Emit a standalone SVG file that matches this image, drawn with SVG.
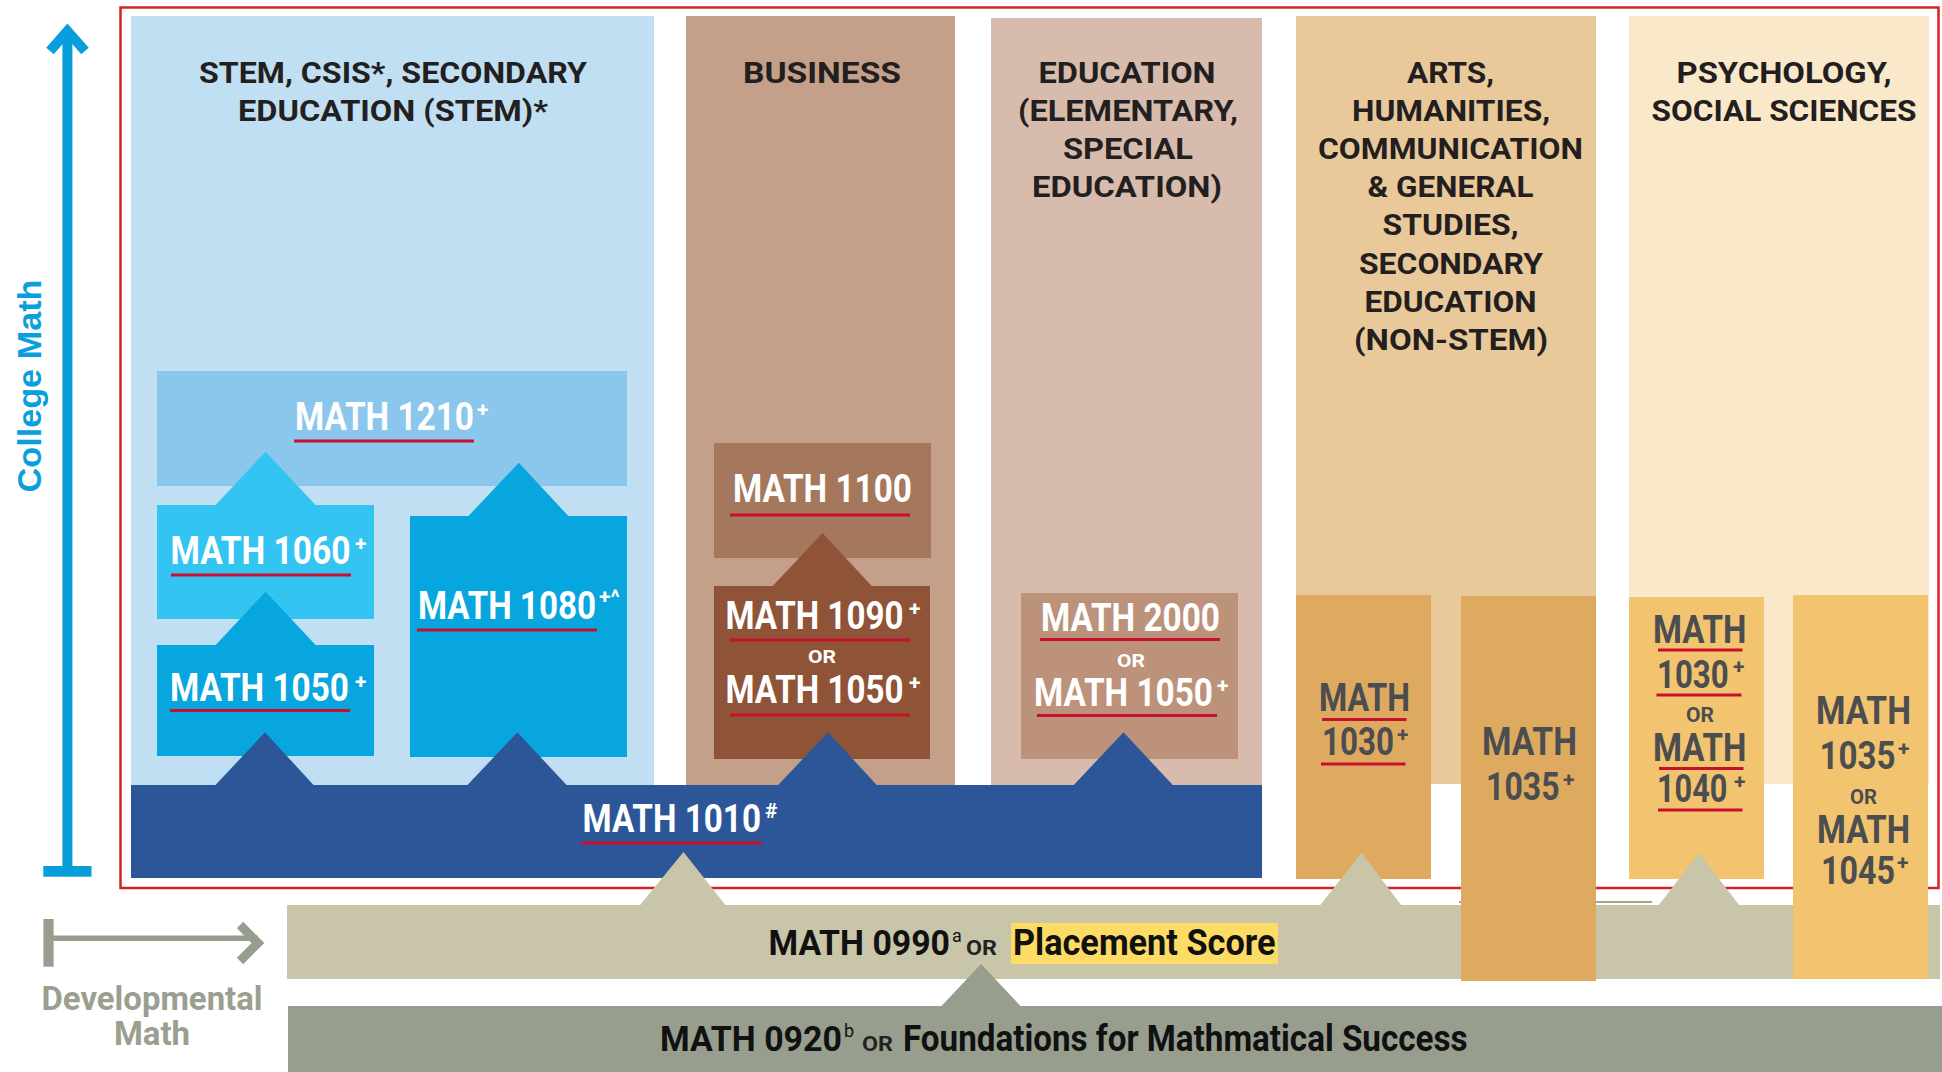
<svg xmlns="http://www.w3.org/2000/svg" width="1942" height="1072" viewBox="0 0 1942 1072">
<style>
text{font-family:Roboto,"Liberation Sans",Arial,sans-serif;font-weight:700}
.h{font-size:30px;fill:#231f20;text-anchor:middle}
.w{font-size:38px;fill:#ffffff}
.g{font-size:38px;fill:#4b4d4f}
.k{font-size:36px;fill:#111111}
.s{font-size:21px}
.o{font-size:19px;text-anchor:middle}
.ul{stroke:#c8102e;stroke-width:3}
.dev{font-size:33px;fill:#9a9f8f;text-anchor:middle}
</style>
<rect x="0" y="0" width="1942" height="1072" fill="#ffffff"/>

<g id="legend-college">
  <line x1="67.4" y1="34" x2="67.4" y2="868" stroke="#079fdb" stroke-width="10"/>
  <polyline points="50,51 67.4,31 85,51" fill="none" stroke="#079fdb" stroke-width="10" stroke-miterlimit="10"/>
  <rect x="43.3" y="866" width="48.2" height="10.7" fill="#079fdb"/>
  <text x="41" y="386" transform="rotate(-90 41 386)" text-anchor="middle" style="font-family:'Liberation Sans',Arial,sans-serif;font-size:34px;fill:#0a9fdc" textLength="213" lengthAdjust="spacingAndGlyphs">College Math</text>
</g>

<g id="frame">
  <rect x="120.5" y="7.5" width="1818" height="880.5" fill="none" stroke="#d2232a" stroke-width="2.5"/>
</g>

<g id="panel-stem">
  <rect x="131" y="16" width="523" height="769" fill="#c0dff2"/>
  <text class="h" x="393" y="83" textLength="388" lengthAdjust="spacingAndGlyphs">STEM, CSIS*, SECONDARY</text>
  <text class="h" x="393" y="121" textLength="310" lengthAdjust="spacingAndGlyphs">EDUCATION (STEM)*</text>
</g>
<g id="panel-business">
  <rect x="686" y="16" width="269" height="769" fill="#c49f89"/>
  <text class="h" x="822" y="83" textLength="158" lengthAdjust="spacingAndGlyphs">BUSINESS</text>
</g>
<g id="panel-education">
  <rect x="991" y="18" width="271" height="767" fill="#d7bbac"/>
  <text class="h" x="1127" y="83" textLength="177" lengthAdjust="spacingAndGlyphs">EDUCATION</text>
  <text class="h" x="1128" y="121" textLength="220" lengthAdjust="spacingAndGlyphs">(ELEMENTARY,</text>
  <text class="h" x="1128" y="159" textLength="130" lengthAdjust="spacingAndGlyphs">SPECIAL</text>
  <text class="h" x="1127" y="197" textLength="190" lengthAdjust="spacingAndGlyphs">EDUCATION)</text>
</g>
<g id="panel-arts">
  <rect x="1296" y="16" width="300" height="768" fill="#e9c89a"/>
  <text class="h" x="1450.5" y="83" textLength="87" lengthAdjust="spacingAndGlyphs">ARTS,</text>
  <text class="h" x="1451" y="121" textLength="198" lengthAdjust="spacingAndGlyphs">HUMANITIES,</text>
  <text class="h" x="1450.5" y="159" textLength="265" lengthAdjust="spacingAndGlyphs">COMMUNICATION</text>
  <text class="h" x="1450.5" y="197" textLength="166" lengthAdjust="spacingAndGlyphs">&amp; GENERAL</text>
  <text class="h" x="1450.5" y="235" textLength="136" lengthAdjust="spacingAndGlyphs">STUDIES,</text>
  <text class="h" x="1451" y="274" textLength="184" lengthAdjust="spacingAndGlyphs">SECONDARY</text>
  <text class="h" x="1450.5" y="312" textLength="172" lengthAdjust="spacingAndGlyphs">EDUCATION</text>
  <text class="h" x="1451" y="350" textLength="194" lengthAdjust="spacingAndGlyphs">(NON-STEM)</text>
</g>
<g id="panel-psych">
  <rect x="1629" y="16" width="300" height="768" fill="#f9e9ca"/>
  <text class="h" x="1784" y="83" textLength="215" lengthAdjust="spacingAndGlyphs">PSYCHOLOGY,</text>
  <text class="h" x="1784" y="121" textLength="265" lengthAdjust="spacingAndGlyphs">SOCIAL SCIENCES</text>
</g>

<g id="math1210">
  <rect x="157" y="371" width="470" height="115" fill="#8bc7ec"/>
  <text class="w" transform="translate(295 430) scale(0.8 1)" textLength="223.75" lengthAdjust="spacingAndGlyphs">MATH 1210</text>
  <text class="w s" x="477" y="416.5">+</text>
  <line class="ul" x1="294" y1="441" x2="474" y2="441"/>
</g>
<g id="math1060">
  <rect x="157" y="505" width="217" height="114" fill="#33c4f1"/>
  <text class="w" transform="translate(170.5 564) scale(0.8 1)" textLength="225" lengthAdjust="spacingAndGlyphs">MATH 1060</text>
  <text class="w s" x="355" y="550.5">+</text>
  <line class="ul" x1="171" y1="575" x2="351" y2="575"/>
</g>
<g id="math1050-stem">
  <rect x="157" y="645" width="217" height="111" fill="#07a6de"/>
  <text class="w" transform="translate(170 701) scale(0.8 1)" textLength="223.75" lengthAdjust="spacingAndGlyphs">MATH 1050</text>
  <text class="w s" x="355" y="688.5">+</text>
  <line class="ul" x1="170" y1="710.5" x2="350" y2="710.5"/>
</g>
<g id="math1080">
  <rect x="410" y="516" width="217" height="241" fill="#07a6de"/>
  <text class="w" transform="translate(418 619) scale(0.8 1)" textLength="222.5" lengthAdjust="spacingAndGlyphs">MATH 1080</text>
  <text class="w s" x="599" y="603.5">+^</text>
  <line class="ul" x1="417" y1="630" x2="597" y2="630"/>
</g>
<g id="math1100">
  <rect x="714" y="443" width="217" height="115" fill="#a5775d"/>
  <text class="w" transform="translate(733 502) scale(0.8 1)" textLength="223.75" lengthAdjust="spacingAndGlyphs">MATH 1100</text>
  <line class="ul" x1="730" y1="515" x2="910" y2="515"/>
</g>
<g id="math1090-or-1050">
  <rect x="714" y="586" width="216" height="173" fill="#8f5437"/>
  <text class="w" transform="translate(725.5 629) scale(0.8 1)" textLength="222.5" lengthAdjust="spacingAndGlyphs">MATH 1090</text>
  <text class="w s" x="909" y="615.5">+</text>
  <line class="ul" x1="730" y1="640" x2="910" y2="640"/>
  <text class="w o" x="822" y="663" textLength="28" lengthAdjust="spacingAndGlyphs">OR</text>
  <text class="w" transform="translate(725.5 703) scale(0.8 1)" textLength="222.5" lengthAdjust="spacingAndGlyphs">MATH 1050</text>
  <text class="w s" x="909" y="689.5">+</text>
  <line class="ul" x1="730" y1="715" x2="910" y2="715"/>
</g>
<g id="math2000-or-1050">
  <rect x="1021" y="593" width="217" height="166" fill="#bd927b"/>
  <text class="w" transform="translate(1041 631) scale(0.8 1)" textLength="223.75" lengthAdjust="spacingAndGlyphs">MATH 2000</text>
  <line class="ul" x1="1040" y1="639.5" x2="1220" y2="639.5"/>
  <text class="w o" x="1131" y="667" textLength="28" lengthAdjust="spacingAndGlyphs">OR</text>
  <text class="w" transform="translate(1034 706) scale(0.8 1)" textLength="223.75" lengthAdjust="spacingAndGlyphs">MATH 1050</text>
  <text class="w s" x="1217" y="692.5">+</text>
  <line class="ul" x1="1037" y1="715.5" x2="1217" y2="715.5"/>
</g>
<g id="math1010">
  <rect x="131" y="785" width="1131" height="93" fill="#2c5697"/>
  <text class="w" transform="translate(582.5 832) scale(0.8 1)" textLength="223.1" lengthAdjust="spacingAndGlyphs">MATH 1010</text>
  <text class="w" x="765" y="818" style="font-size:21px">#</text>
  <line class="ul" x1="581" y1="843" x2="762" y2="843"/>
</g>

<g id="math1030-arts">
  <rect x="1296" y="595" width="135" height="284" fill="#deaa60"/>
  <text class="g" transform="translate(1319 711) scale(0.8 1)" textLength="113.75" lengthAdjust="spacingAndGlyphs">MATH</text>
  <line class="ul" x1="1322" y1="719.5" x2="1406.5" y2="719.5"/>
  <text class="g" transform="translate(1322 755) scale(0.8 1)" textLength="90" lengthAdjust="spacingAndGlyphs">1030</text>
  <text class="g s" x="1397" y="741.5">+</text>
  <line class="ul" x1="1321" y1="764" x2="1405.5" y2="764"/>
</g>

<g id="tan-line">
  <line x1="1459" y1="902" x2="1652" y2="902" stroke="#aba585" stroke-width="2"/>
</g>
<g id="math0990">
  <rect x="287" y="905" width="1653" height="74" fill="#c9c5a8"/>
  <text class="k" transform="translate(768.5 954.5) scale(0.9 1)" textLength="201.7" lengthAdjust="spacingAndGlyphs">MATH 0990</text>
  <text x="952" y="942" style="font-size:18px;font-weight:400;fill:#111">a</text>
  <text transform="translate(966 954.5) scale(0.9 1)" style="font-size:21px;fill:#222" textLength="34.4" lengthAdjust="spacingAndGlyphs">OR</text>
  <rect x="1011" y="923" width="267" height="41" fill="#fddc66"/>
  <text class="k" x="1013" y="954.5" textLength="262.5" lengthAdjust="spacingAndGlyphs">Placement Score</text>
</g>
<g id="math1035-arts">
  <rect x="1461" y="596" width="135" height="385" fill="#deaa60"/>
  <text class="g" transform="translate(1482 755) scale(0.8 1)" textLength="118.75" lengthAdjust="spacingAndGlyphs">MATH</text>
  <text class="g" transform="translate(1486 800) scale(0.8 1)" textLength="91.9" lengthAdjust="spacingAndGlyphs">1035</text>
  <text class="g s" x="1563" y="786.5">+</text>
</g>
<g id="math1030-or-1040">
  <rect x="1629" y="597" width="135" height="282" fill="#f2c46f"/>
  <text class="g" transform="translate(1653 642.5) scale(0.8 1)" textLength="116.9" lengthAdjust="spacingAndGlyphs">MATH</text>
  <line class="ul" x1="1658" y1="650" x2="1742.5" y2="650"/>
  <text class="g" transform="translate(1657 688) scale(0.8 1)" textLength="89.6" lengthAdjust="spacingAndGlyphs">1030</text>
  <text class="g s" x="1733" y="674">+</text>
  <line class="ul" x1="1656.5" y1="695" x2="1741.5" y2="695"/>
  <text class="g o" x="1700" y="722" style="font-size:20px" textLength="28" lengthAdjust="spacingAndGlyphs">OR</text>
  <text class="g" transform="translate(1653 761) scale(0.8 1)" textLength="116.9" lengthAdjust="spacingAndGlyphs">MATH</text>
  <line class="ul" x1="1659" y1="768.5" x2="1743.5" y2="768.5"/>
  <text class="g" transform="translate(1657 802) scale(0.8 1)" textLength="88.1" lengthAdjust="spacingAndGlyphs">1040</text>
  <text class="g s" x="1734" y="788.5">+</text>
  <line class="ul" x1="1658" y1="810" x2="1742.5" y2="810"/>
</g>
<g id="math1035-or-1045">
  <rect x="1793" y="595" width="135" height="384" fill="#f2c46f"/>
  <text class="g" transform="translate(1816 723.5) scale(0.8 1)" textLength="118.75" lengthAdjust="spacingAndGlyphs">MATH</text>
  <text class="g" transform="translate(1819.5 768.5) scale(0.8 1)" textLength="95" lengthAdjust="spacingAndGlyphs">1035</text>
  <text class="g s" x="1898" y="755.5">+</text>
  <text class="g o" x="1863.5" y="803.5" style="font-size:20px" textLength="27" lengthAdjust="spacingAndGlyphs">OR</text>
  <text class="g" transform="translate(1817 843) scale(0.8 1)" textLength="116.25" lengthAdjust="spacingAndGlyphs">MATH</text>
  <text class="g" transform="translate(1821 883.5) scale(0.8 1)" textLength="92.5" lengthAdjust="spacingAndGlyphs">1045</text>
  <text class="g s" x="1897" y="869.5">+</text>
</g>

<g id="math0920">
  <rect x="288" y="1006" width="1654" height="66" fill="#989e8e"/>
  <text class="k" transform="translate(660 1050.5) scale(0.9 1)" textLength="202.2" lengthAdjust="spacingAndGlyphs">MATH 0920</text>
  <text x="844" y="1037" style="font-size:18px;font-weight:400;fill:#111">b</text>
  <text transform="translate(862 1050.5) scale(0.9 1)" style="font-size:21px;fill:#222" textLength="34.4" lengthAdjust="spacingAndGlyphs">OR</text>
  <text class="k" x="903" y="1050.5" textLength="564.5" lengthAdjust="spacingAndGlyphs">Foundations for Mathmatical Success</text>
</g>

<g id="legend-developmental">
  <rect x="43.4" y="919" width="10.2" height="47.7" fill="#989e8e"/>
  <line x1="53" y1="938.3" x2="258" y2="938.3" stroke="#989e8e" stroke-width="5.5"/>
  <polyline points="240,925 258,943 240,961" fill="none" stroke="#989e8e" stroke-width="9" stroke-miterlimit="10"/>
  <text class="dev" x="152" y="1009.5" textLength="221" lengthAdjust="spacingAndGlyphs">Developmental</text>
  <text class="dev" x="152" y="1045">Math</text>
</g>

<g id="connectors">
  <polygon points="215.6,505 265.6,451.7 315.6,505" fill="#33c4f1"/>
  <polygon points="215.6,645 265.6,591.7 315.6,645" fill="#07a6de"/>
  <polygon points="468,516.5 518.8,462.7 568.8,516.5" fill="#07a6de"/>
  <polygon points="772.3,586.5 822.5,533 872.2,586.5" fill="#8f5437"/>
  <polygon points="215,785.5 265,732.3 314,785.5" fill="#2c5697"/>
  <polygon points="467,785.5 517.4,732.3 567,785.5" fill="#2c5697"/>
  <polygon points="777.7,785.5 828,732.3 877.2,785.5" fill="#2c5697"/>
  <polygon points="1073.3,785.5 1123.5,732.3 1173.2,785.5" fill="#2c5697"/>
  <polygon points="639.7,905.5 683.5,852 725.8,905.5" fill="#c9c5a8"/>
  <polygon points="1320,905.5 1361.5,852.7 1401.5,905.5" fill="#c9c5a8"/>
  <polygon points="1658.5,905.5 1699,852.7 1739.5,905.5" fill="#c9c5a8"/>
  <polygon points="941,1006.5 981,964 1021,1006.5" fill="#989e8e"/>
</g>
</svg>
